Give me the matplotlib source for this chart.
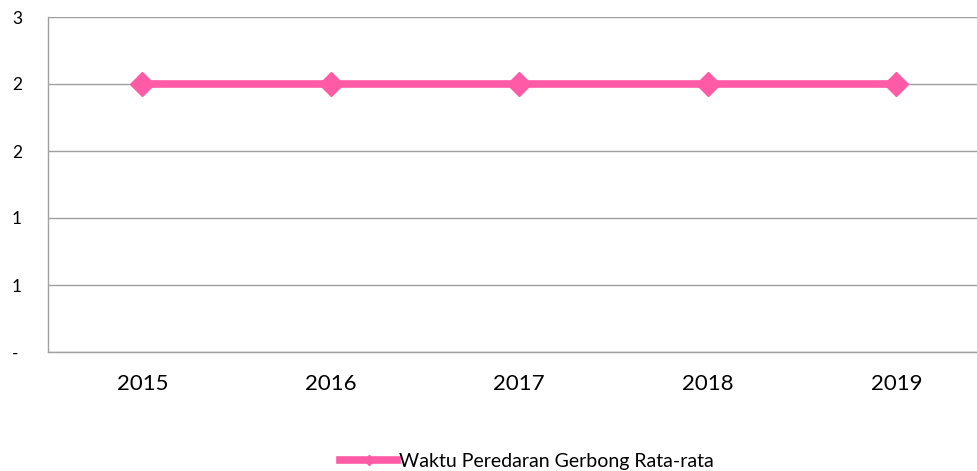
import matplotlib
matplotlib.use('Agg')
import matplotlib.pyplot as plt
from matplotlib.ticker import FixedLocator, FuncFormatter

# Data
tahun = ['2015', '2016', '2017', '2018', '2019']
waktu_peredaran = [2, 2, 2, 2, 2]
y_ticks = [0, 0.5, 1.0, 1.5, 2.0, 2.5]
label_seri = 'Waktu Peredaran Gerbong Rata-rata'

plt.rcParams['font.family'] = ['Lato', 'DejaVu Sans']

warna = '#FF5AA6'
abu = '#A0A0A0'

fig = plt.figure(figsize=(9.77, 4.71), dpi=100)
ax = fig.add_axes([48 / 977, 119 / 471, 942.5 / 977, 335 / 471])

x = range(len(tahun))
ax.plot(x, waktu_peredaran, color=warna, linewidth=5.5, marker='D',
        markersize=12, label=label_seri, zorder=3)

ax.set_xlim(-0.5, len(tahun) - 0.5)
ax.set_ylim(0, 2.5)
ax.set_xticks(list(x))
ax.set_xticklabels(tahun, fontsize=16)


def fmt_excel(v, pos):
    # pembulatan gaya Excel (setengah ke atas), nol ditampilkan sebagai "-"
    if abs(v) < 1e-9:
        return '-'
    return str(int(v + 0.5))


ax.yaxis.set_major_locator(FixedLocator(y_ticks))
ax.yaxis.set_major_formatter(FuncFormatter(fmt_excel))
ax.tick_params(axis='y', labelsize=12.5, length=0, pad=26)
ax.tick_params(axis='x', length=0, pad=16)
for lbl in ax.get_yticklabels():
    lbl.set_horizontalalignment('left')

ax.grid(axis='y', color=abu, linewidth=1)
ax.set_axisbelow(True)
for s in ['top', 'right']:
    ax.spines[s].set_visible(False)
for s in ['left', 'bottom']:
    ax.spines[s].set_color(abu)
    ax.spines[s].set_linewidth(1)

leg = fig.legend(loc='center', bbox_to_anchor=(527 / 977, 1 - 461 / 471),
                 frameon=False, fontsize=14, handlelength=2.9,
                 handletextpad=0.1, markerscale=0.45)

fig.savefig('out.png', dpi=100)
